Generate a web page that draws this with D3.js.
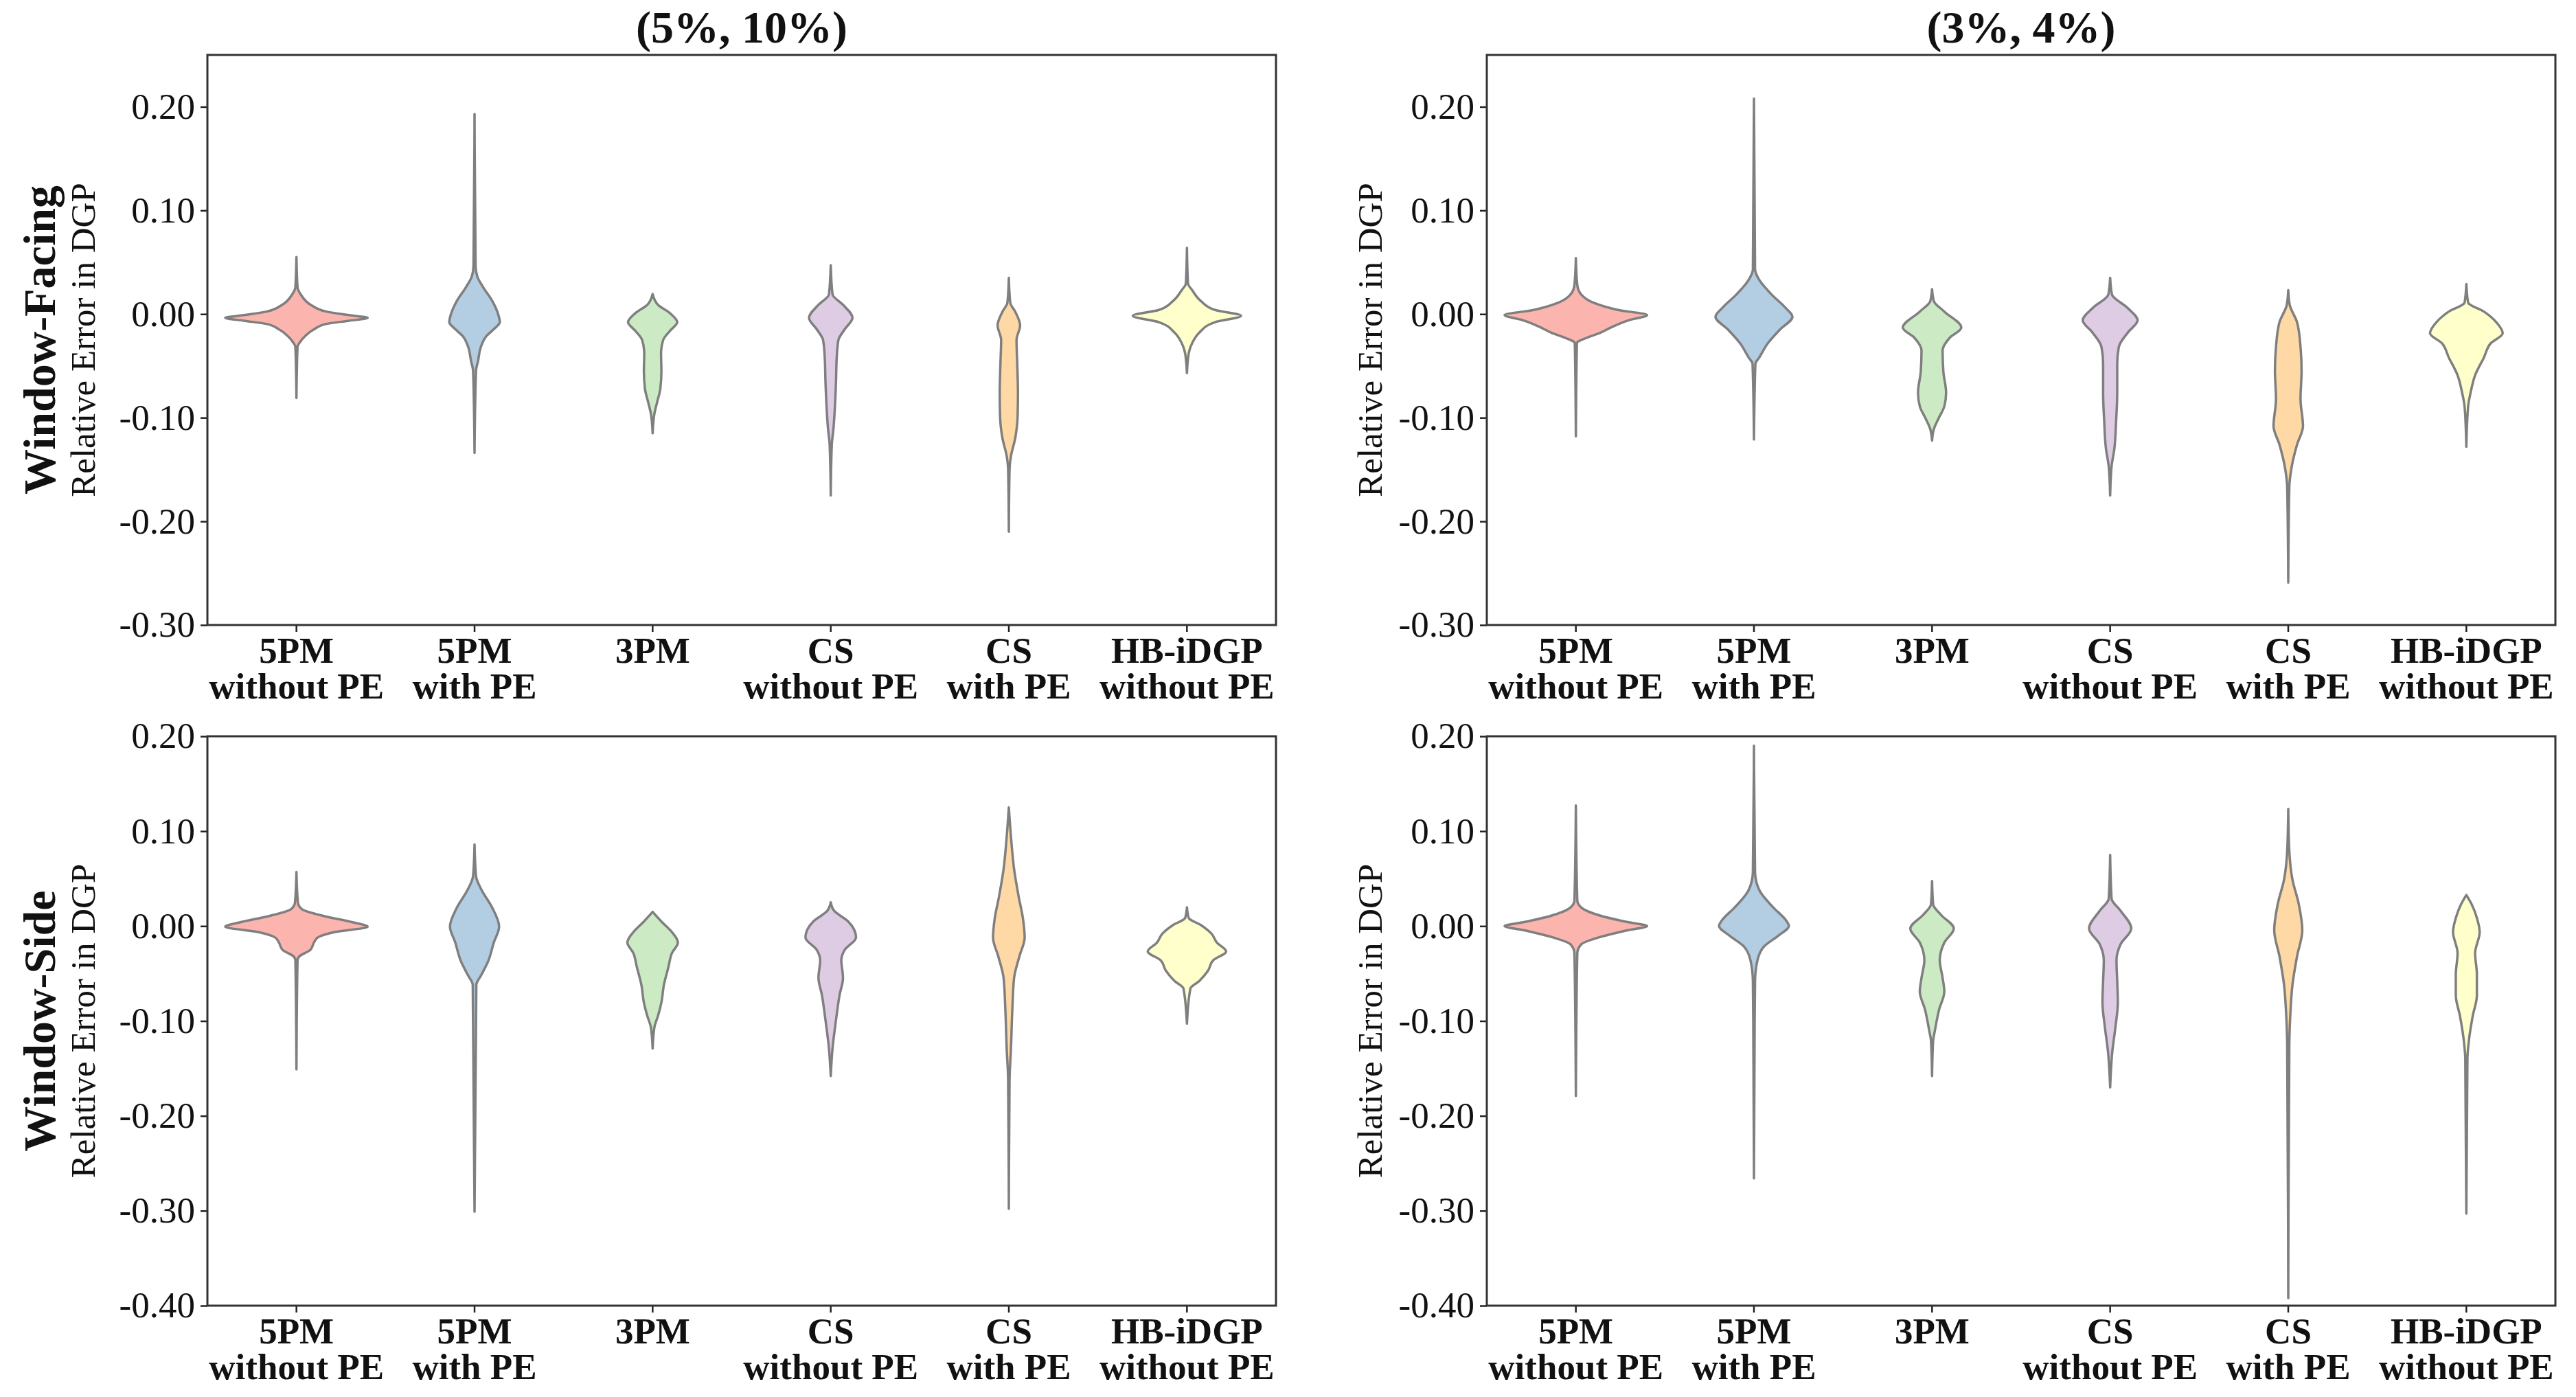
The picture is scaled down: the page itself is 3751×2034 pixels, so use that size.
<!DOCTYPE html>
<html>
<head>
<meta charset="utf-8">
<script src="https://cdn.jsdelivr.net/npm/d3@7"></script>
<style>
  body { margin: 0; background: #fff; }
  svg text { font-family: "Times New Roman", "Liberation Serif", serif; fill: #111; }
</style>
</head>
<body>
<div id="chart"></div>
<script>
const W = 3751, H = 2034;

// category labels (two lines each) and Pastel1 fills
const catTop = ["5PM", "5PM", "3PM", "CS", "CS", "HB-iDGP"];
const catBottom = ["without PE", "with PE", "", "without PE", "with PE", "without PE"];
const fills = ["#fbb4ae", "#b3cde3", "#ccebc5", "#decbe4", "#fed9a6", "#ffffcc"];

const colTitles = ["(5%, 10%)", "(3%, 4%)"];
const rowTitles = ["Window-Facing", "Window-Side"];
const yLabel = "Relative Error in DGP";

const yTicksFacing = [0.20, 0.10, 0.00, -0.10, -0.20, -0.30];
const yTicksSide = [0.20, 0.10, 0.00, -0.10, -0.20, -0.30, -0.40];

// violin profiles: [relative error, half width (1 = widest)]
const facing_5_10 = [
  [[0.055,0],[0.026,0.015],[0.019,0.06],[0.009,0.2],[0.0024,0.42],[-0.001,0.74],[-0.0037,1.0],[-0.0064,0.74],[-0.0095,0.42],[-0.0146,0.25],[-0.0214,0.12],[-0.028,0.04],[-0.0315,0.015],[-0.081,0]],
  [[0.193,0],[0.046,0.015],[0.036,0.04],[0.026,0.12],[0.0125,0.25],[-0.001,0.335],[-0.0078,0.355],[-0.0146,0.27],[-0.021,0.17],[-0.0315,0.09],[-0.045,0.05],[-0.055,0.02],[-0.134,0]],
  [[0.0193,0],[0.009,0.074],[0.0007,0.246],[-0.0078,0.345],[-0.016,0.246],[-0.025,0.148],[-0.038,0.118],[-0.055,0.123],[-0.072,0.108],[-0.086,0.059],[-0.096,0.025],[-0.115,0]],
  [[0.047,0],[0.019,0.025],[0.009,0.172],[-0.0037,0.305],[-0.0146,0.197],[-0.025,0.108],[-0.042,0.084],[-0.065,0.074],[-0.089,0.059],[-0.11,0.039],[-0.126,0.015],[-0.175,0]],
  [[0.035,0],[0.011,0.02],[0.0024,0.089],[-0.011,0.158],[-0.025,0.108],[-0.048,0.118],[-0.076,0.128],[-0.099,0.123],[-0.12,0.089],[-0.137,0.03],[-0.15,0.01],[-0.21,0]],
  [[0.064,0],[0.0295,0.015],[0.023,0.074],[0.0125,0.197],[0.004,0.394],[-0.0017,0.76],[-0.0078,0.394],[-0.018,0.172],[-0.028,0.074],[-0.038,0.025],[-0.057,0]]
];
const facing_3_4 = [
  [[0.054,0],[0.028,0.02],[0.019,0.074],[0.011,0.246],[0.004,0.59],[-0.001,1.0],[-0.006,0.74],[-0.013,0.49],[-0.018,0.345],[-0.023,0.148],[-0.028,0.015],[-0.118,0]],
  [[0.208,0],[0.043,0.015],[0.033,0.074],[0.019,0.246],[0.006,0.443],[-0.0027,0.54],[-0.0146,0.37],[-0.028,0.197],[-0.042,0.074],[-0.048,0.02],[-0.121,0]],
  [[0.024,0],[0.0125,0.025],[0.0024,0.172],[-0.013,0.41],[-0.023,0.246],[-0.035,0.148],[-0.055,0.158],[-0.076,0.197],[-0.089,0.172],[-0.101,0.089],[-0.111,0.025],[-0.122,0]],
  [[0.035,0],[0.019,0.025],[0.0058,0.246],[-0.006,0.385],[-0.018,0.246],[-0.0315,0.123],[-0.048,0.099],[-0.076,0.099],[-0.103,0.084],[-0.130,0.059],[-0.147,0.02],[-0.175,0]],
  [[0.023,0],[0.009,0.02],[-0.0078,0.123],[-0.0315,0.172],[-0.055,0.187],[-0.082,0.172],[-0.108,0.207],[-0.126,0.123],[-0.147,0.049],[-0.167,0.015],[-0.259,0]],
  [[0.029,0],[0.011,0.025],[0.0024,0.246],[-0.0078,0.42],[-0.0186,0.51],[-0.028,0.345],[-0.042,0.246],[-0.059,0.123],[-0.076,0.059],[-0.089,0.025],[-0.128,0]]
];
const side_5_10 = [
  [[0.057,0],[0.025,0.02],[0.018,0.074],[0.0104,0.394],[0.004,0.79],[-0.0007,1.0],[-0.0063,0.54],[-0.012,0.3],[-0.0174,0.246],[-0.025,0.197],[-0.032,0.04],[-0.036,0.015],[-0.151,0]],
  [[0.086,0],[0.053,0.02],[0.038,0.099],[0.0197,0.246],[-0.0007,0.345],[-0.0174,0.27],[-0.036,0.197],[-0.051,0.099],[-0.062,0.025],[-0.301,0]],
  [[0.015,0],[0.0048,0.123],[-0.0063,0.27],[-0.0174,0.355],[-0.0286,0.27],[-0.043,0.222],[-0.062,0.158],[-0.0805,0.123],[-0.095,0.074],[-0.1065,0.025],[-0.129,0]],
  [[0.025,0],[0.016,0.049],[0.0048,0.246],[-0.012,0.355],[-0.025,0.197],[-0.036,0.148],[-0.0545,0.172],[-0.073,0.123],[-0.099,0.074],[-0.129,0.025],[-0.158,0]],
  [[0.125,0],[0.094,0.03],[0.060,0.074],[0.031,0.138],[0.0085,0.197],[-0.012,0.222],[-0.032,0.148],[-0.0545,0.074],[-0.088,0.049],[-0.129,0.03],[-0.162,0.01],[-0.298,0]],
  [[0.0197,0],[0.0085,0.025],[0.001,0.197],[-0.008,0.345],[-0.0174,0.42],[-0.0267,0.55],[-0.036,0.37],[-0.047,0.296],[-0.058,0.172],[-0.0657,0.049],[-0.1028,0]]
];
const side_3_4 = [
  [[0.127,0],[0.027,0.02],[0.0197,0.074],[0.0104,0.37],[0.004,0.74],[0,1.0],[-0.005,0.69],[-0.012,0.32],[-0.0193,0.074],[-0.0286,0.02],[-0.179,0]],
  [[0.19,0],[0.057,0.015],[0.038,0.074],[0.0197,0.27],[0.0067,0.443],[0,0.49],[-0.01,0.345],[-0.021,0.148],[-0.036,0.049],[-0.058,0.015],[-0.099,0.01],[-0.266,0]],
  [[0.0475,0],[0.023,0.015],[0.012,0.123],[-0.0026,0.305],[-0.0174,0.172],[-0.036,0.108],[-0.0545,0.148],[-0.069,0.172],[-0.088,0.099],[-0.11,0.04],[-0.121,0.015],[-0.158,0]],
  [[0.075,0],[0.029,0.02],[0.016,0.148],[-0.0026,0.296],[-0.019,0.148],[-0.036,0.089],[-0.058,0.099],[-0.0805,0.108],[-0.1065,0.074],[-0.1325,0.03],[-0.17,0]],
  [[0.1235,0],[0.079,0.015],[0.049,0.059],[0.023,0.148],[-0.0045,0.197],[-0.032,0.123],[-0.062,0.059],[-0.092,0.03],[-0.125,0.015],[-0.392,0]],
  [[0.0327,0],[0.023,0.074],[0.0085,0.148],[-0.0063,0.187],[-0.0286,0.123],[-0.051,0.148],[-0.073,0.148],[-0.095,0.089],[-0.118,0.04],[-0.14,0.015],[-0.303,0]]
];

const panels = [
  { row: 0, col: 0, data: facing_5_10, domain: [-0.30, 0.25], ticks: yTicksFacing },
  { row: 0, col: 1, data: facing_3_4,  domain: [-0.30, 0.25], ticks: yTicksFacing },
  { row: 1, col: 0, data: side_5_10,   domain: [-0.40, 0.20], ticks: yTicksSide },
  { row: 1, col: 1, data: side_3_4,    domain: [-0.40, 0.20], ticks: yTicksSide }
];

// layout
const colLeft = [302, 2165], panelW = 1556;
const rowTop = [80, 1072], panelH = [830, 829];
const labelX = [138, 2012];
const fontSize = 53;

const svg = d3.select("#chart").append("svg")
  .attr("width", W)
  .attr("height", H)
  .style("background", "#fff");

panels.forEach(p => {
  const h = panelH[p.row];
  const g = svg.append("g")
    .attr("transform", `translate(${colLeft[p.col]},${rowTop[p.row]})`);

  const x = d3.scaleBand().domain(d3.range(catTop.length)).range([0, panelW]).padding(0);
  const y = d3.scaleLinear().domain(p.domain).range([h, 0]);
  const w = d3.scaleLinear().domain([0, 1]).range([0, x.bandwidth() * 0.4]);

  // violins
  p.data.forEach((prof, i) => {
    const cx = x(i) + x.bandwidth() / 2;
    const area = d3.area()
      .curve(d3.curveMonotoneY)
      .y(d => y(d[0]))
      .x0(d => cx - w(d[1]))
      .x1(d => cx + w(d[1]));
    g.append("path")
      .datum(prof)
      .attr("d", area)
      .attr("fill", fills[i])
      .attr("stroke", "#7f7f7f")
      .attr("stroke-width", 3.5)
      .attr("stroke-linejoin", "round");
  });

  // y axis
  const ya = g.append("g")
    .call(d3.axisLeft(y)
      .tickValues(p.ticks)
      .tickFormat(d => d.toFixed(2))
      .tickSize(10)
      .tickSizeOuter(0)
      .tickPadding(8));
  ya.select(".domain").remove();
  ya.selectAll(".tick line").attr("stroke", "#222").attr("stroke-width", 2.5);
  ya.selectAll(".tick text")
    .attr("font-size", fontSize)
    .attr("font-family", "'Times New Roman', 'Liberation Serif', serif")
    .attr("fill", "#111");

  // x axis
  const xa = g.append("g")
    .attr("transform", `translate(0,${h})`)
    .call(d3.axisBottom(x).tickSize(10).tickSizeOuter(0).tickFormat(""));
  xa.select(".domain").remove();
  xa.selectAll(".tick line").attr("stroke", "#222").attr("stroke-width", 2.5);

  const xl = g.append("g").attr("transform", `translate(0,${h})`);
  catTop.forEach((t, i) => {
    const cx = x(i) + x.bandwidth() / 2;
    const txt = xl.append("text")
      .attr("text-anchor", "middle")
      .attr("font-size", fontSize)
      .attr("font-weight", "bold");
    txt.append("tspan").attr("x", cx).attr("y", 55).text(t);
    if (catBottom[i]) txt.append("tspan").attr("x", cx).attr("y", 107).text(catBottom[i]);
  });

  // frame
  g.append("rect")
    .attr("width", panelW)
    .attr("height", h)
    .attr("fill", "none")
    .attr("stroke", "#333")
    .attr("stroke-width", 3);

  // y label
  svg.append("text")
    .attr("transform", `translate(${labelX[p.col]},${rowTop[p.row] + h / 2}) rotate(-90)`)
    .attr("text-anchor", "middle")
    .attr("font-size", 51)
    .text(yLabel);

  if (p.row === 0) {
    svg.append("text")
      .attr("x", colLeft[p.col] + panelW / 2)
      .attr("y", 62)
      .attr("text-anchor", "middle")
      .attr("font-size", 66)
      .attr("font-weight", "bold")
      .text(colTitles[p.col]);
  }
  if (p.col === 0) {
    svg.append("text")
      .attr("transform", `translate(80,${rowTop[p.row] + h / 2}) rotate(-90)`)
      .attr("text-anchor", "middle")
      .attr("font-size", 66)
      .attr("font-weight", "bold")
      .text(rowTitles[p.row]);
  }
});
</script>
</body>
</html>
